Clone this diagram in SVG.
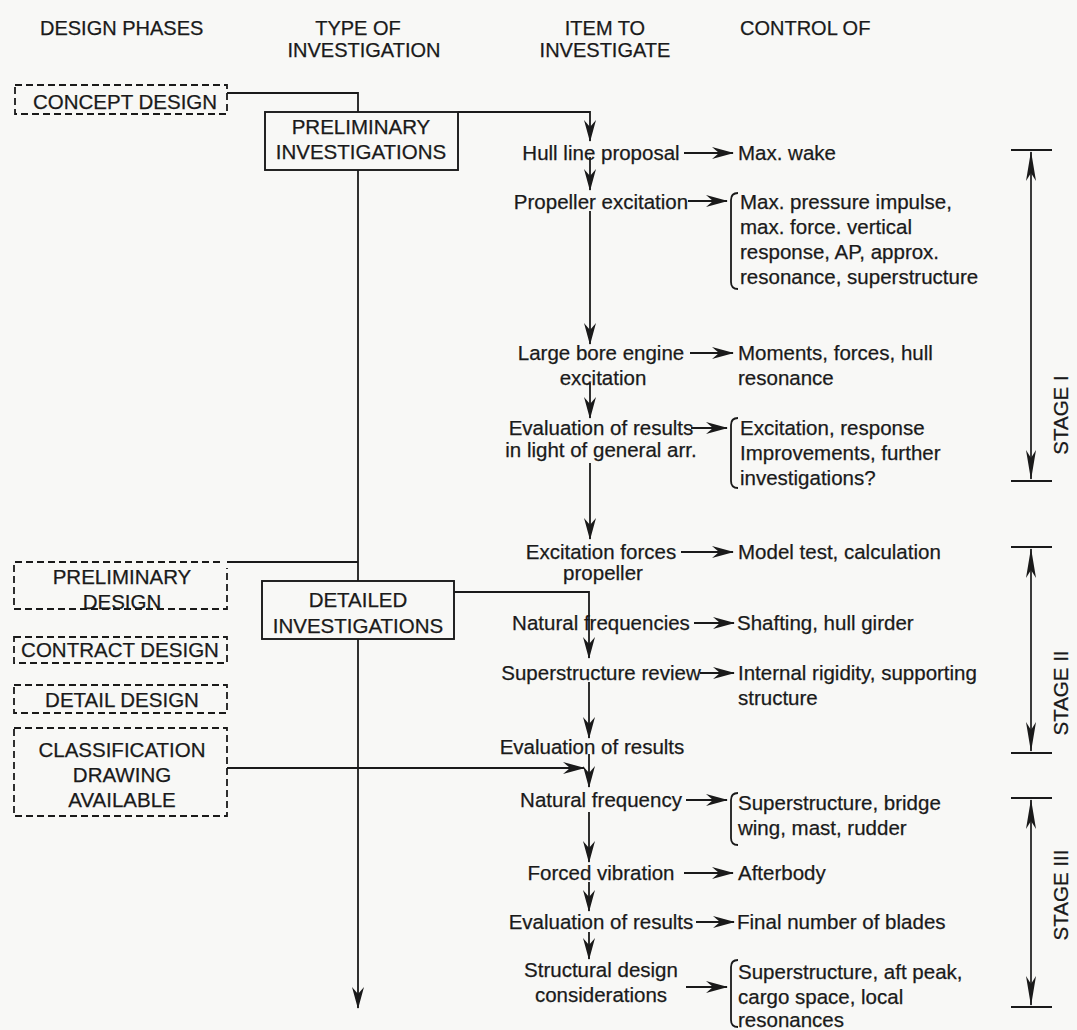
<svg xmlns="http://www.w3.org/2000/svg" width="1077" height="1030" viewBox="0 0 1077 1030">
<style>
text{font-family:"Liberation Sans",Arial,sans-serif;font-size:20.5px;fill:#1a1a1a;stroke:#1a1a1a;stroke-width:0.25}
.h{font-size:20px}
.m{text-anchor:middle}
.ln{fill:none;stroke:#1a1a1a;stroke-width:1.8}
.dash{fill:none;stroke:#1a1a1a;stroke-width:1.8;stroke-dasharray:7,4}
.box{fill:none;stroke:#1a1a1a;stroke-width:1.9}
.ar{fill:none;stroke:#1a1a1a;stroke-width:1.8;marker-end:url(#ah)}
.st{fill:none;stroke:#1a1a1a;stroke-width:1.7;marker-start:url(#sh);marker-end:url(#sh)}
.tick{stroke:#1a1a1a;stroke-width:1.9}
</style>
<defs>
<marker id="ah" viewBox="0 0 22 12" markerWidth="22" markerHeight="12" refX="21" refY="6" orient="auto" markerUnits="userSpaceOnUse"><path d="M0,0 L22,6 L0,12 L7,6 z" fill="#1a1a1a"/></marker>
<marker id="sh" viewBox="0 0 30 10" markerWidth="30" markerHeight="10" refX="29" refY="5" orient="auto-start-reverse" markerUnits="userSpaceOnUse"><path d="M0,0 L30,5 L0,10 L8,5 z" fill="#1a1a1a"/></marker>
</defs>
<rect width="1077" height="1030" fill="#f8f8f6"/>

<g id="headers">
<text class="h" x="40" y="35">DESIGN PHASES</text>
<text class="h m" x="358" y="35">TYPE OF</text>
<text class="h m" x="364" y="57">INVESTIGATION</text>
<text class="h m" x="605" y="35">ITEM TO</text>
<text class="h m" x="605" y="57">INVESTIGATE</text>
<text class="h" x="740" y="35">CONTROL OF</text>
</g>

<g id="connectors">
<path class="ln" d="M227,93 H358 V112"/>
<path class="ln" d="M358,170 V581"/>
<path class="ln" d="M227,562 H358"/>
<path class="ar" d="M358,639 V1008"/>
<path class="ar" d="M458,112 H590 V141"/>
<path class="ar" d="M590,157 V190"/>
<path class="ar" d="M590,211 V344"/>
<path class="ar" d="M590,383 V418"/>
<path class="ar" d="M590,463 V539"/>
<path class="ar" d="M454,592 H589 V658"/>
<path class="ar" d="M589,682 V738"/>
<path class="ar" d="M227,768 H584"/>
<path class="ar" d="M589,754 V787"/>
<path class="ar" d="M589,812 V862"/>
<path class="ar" d="M589,882 V911"/>
<path class="ar" d="M589,932 V959"/>
<path class="ar" d="M684,153 H733"/>
<path class="ar" d="M688,201 H727"/>
<path class="ar" d="M690,353 H733"/>
<path class="ar" d="M691,428 H727"/>
<path class="ar" d="M681,552 H733"/>
<path class="ar" d="M694,623 H734"/>
<path class="ar" d="M700,673 H734"/>
<path class="ar" d="M686,800 H727"/>
<path class="ar" d="M684,873 H733"/>
<path class="ar" d="M696,922 H734"/>
<path class="ar" d="M686,987 H727"/>
</g>

<g id="concept-design">
<rect class="dash" x="15" y="85" width="212" height="29"/>
<text class="m" x="125" y="109">CONCEPT DESIGN</text>
</g>
<g id="preliminary-design">
<path class="dash" d="M220,562 H14 V609 H227 V568"/>
<text class="m" x="122" y="584">PRELIMINARY</text>
<text class="m" x="122" y="609">DESIGN</text>
</g>
<g id="contract-design">
<rect class="dash" x="14" y="637" width="213" height="26"/>
<text class="m" x="120" y="657">CONTRACT DESIGN</text>
</g>
<g id="detail-design">
<rect class="dash" x="14" y="685" width="213" height="28"/>
<text class="m" x="122" y="707">DETAIL DESIGN</text>
</g>
<g id="classification-drawing">
<rect class="dash" x="14" y="728" width="213" height="88"/>
<text class="m" x="122" y="757">CLASSIFICATION</text>
<text class="m" x="122" y="782">DRAWING</text>
<text class="m" x="122" y="807">AVAILABLE</text>
</g>

<g id="preliminary-investigations">
<rect class="box" x="265" y="112" width="193" height="58"/>
<text class="m" x="361" y="134">PRELIMINARY</text>
<text class="m" x="361" y="159">INVESTIGATIONS</text>
</g>
<g id="detailed-investigations">
<rect class="box" x="262" y="581" width="192" height="58"/>
<text class="m" x="358" y="607">DETAILED</text>
<text class="m" x="358" y="633">INVESTIGATIONS</text>
</g>

<g id="item-hull-line"><text class="m" x="601" y="160">Hull line proposal</text></g>
<g id="item-propeller-excitation"><text class="m" x="601" y="209">Propeller excitation</text></g>
<g id="item-engine-excitation"><text class="m" x="601" y="360">Large bore engine</text><text class="m" x="603" y="385">excitation</text></g>
<g id="item-evaluation-1"><text class="m" x="601" y="435">Evaluation of results</text><text class="m" x="601" y="457">in light of general arr.</text></g>
<g id="item-excitation-forces"><text class="m" x="601" y="559">Excitation forces</text><text class="m" x="603" y="580">propeller</text></g>
<g id="item-natural-frequencies"><text class="m" x="601" y="630">Natural frequencies</text></g>
<g id="item-superstructure-review"><text class="m" x="601" y="680">Superstructure review</text></g>
<g id="item-evaluation-2"><text class="m" x="592" y="754">Evaluation of results</text></g>
<g id="item-natural-frequency"><text class="m" x="601" y="807">Natural frequency</text></g>
<g id="item-forced-vibration"><text class="m" x="601" y="880">Forced vibration</text></g>
<g id="item-evaluation-3"><text class="m" x="601" y="929">Evaluation of results</text></g>
<g id="item-structural-design"><text class="m" x="601" y="977">Structural design</text><text class="m" x="601" y="1002">considerations</text></g>

<g id="control-max-wake"><text x="738" y="160">Max. wake</text></g>
<g id="control-pressure">
<path class="ln" d="M738,193 Q731,193 731,200 V282 Q731,289 738,289"/>
<text x="740" y="209">Max. pressure impulse,</text>
<text x="740" y="234">max. force. vertical</text>
<text x="740" y="259">response, AP, approx.</text>
<text x="740" y="284">resonance, superstructure</text>
</g>
<g id="control-moments"><text x="738" y="360">Moments, forces, hull</text><text x="738" y="385">resonance</text></g>
<g id="control-excitation-response">
<path class="ln" d="M738,418 Q731,418 731,425 V481 Q731,488 738,488"/>
<text x="740" y="435">Excitation, response</text>
<text x="740" y="460">Improvements, further</text>
<text x="740" y="485">investigations?</text>
</g>
<g id="control-model-test"><text x="738" y="559">Model test, calculation</text></g>
<g id="control-shafting"><text x="737" y="630">Shafting, hull girder</text></g>
<g id="control-internal-rigidity"><text x="738" y="680">Internal rigidity, supporting</text><text x="738" y="705">structure</text></g>
<g id="control-superstructure-bridge">
<path class="ln" d="M738,793 Q731,793 731,800 V838 Q731,845 738,845"/>
<text x="738" y="810">Superstructure, bridge</text>
<text x="738" y="835">wing, mast, rudder</text>
</g>
<g id="control-afterbody"><text x="738" y="880">Afterbody</text></g>
<g id="control-blades"><text x="737" y="929">Final number of blades</text></g>
<g id="control-aft-peak">
<path class="ln" d="M738,960 Q731,960 731,967 V1020 Q731,1027 738,1027"/>
<text x="738" y="979">Superstructure, aft peak,</text>
<text x="738" y="1004">cargo space, local</text>
<text x="738" y="1027">resonances</text>
</g>

<g id="stage-1">
<line class="tick" x1="1011" y1="150" x2="1052" y2="150"/>
<line class="tick" x1="1011" y1="481" x2="1052" y2="481"/>
<line class="st" x1="1031" y1="152" x2="1031" y2="479"/>
<text class="m" transform="translate(1068,415) rotate(-90)">STAGE I</text>
</g>
<g id="stage-2">
<line class="tick" x1="1011" y1="547" x2="1052" y2="547"/>
<line class="tick" x1="1011" y1="753" x2="1052" y2="753"/>
<line class="st" x1="1031" y1="549" x2="1031" y2="751"/>
<text class="m" transform="translate(1068,693) rotate(-90)">STAGE II</text>
</g>
<g id="stage-3">
<line class="tick" x1="1011" y1="798" x2="1052" y2="798"/>
<line class="tick" x1="1011" y1="1007" x2="1052" y2="1007"/>
<line class="st" x1="1031" y1="800" x2="1031" y2="1005"/>
<text class="m" transform="translate(1068,895) rotate(-90)">STAGE III</text>
</g>
</svg>
